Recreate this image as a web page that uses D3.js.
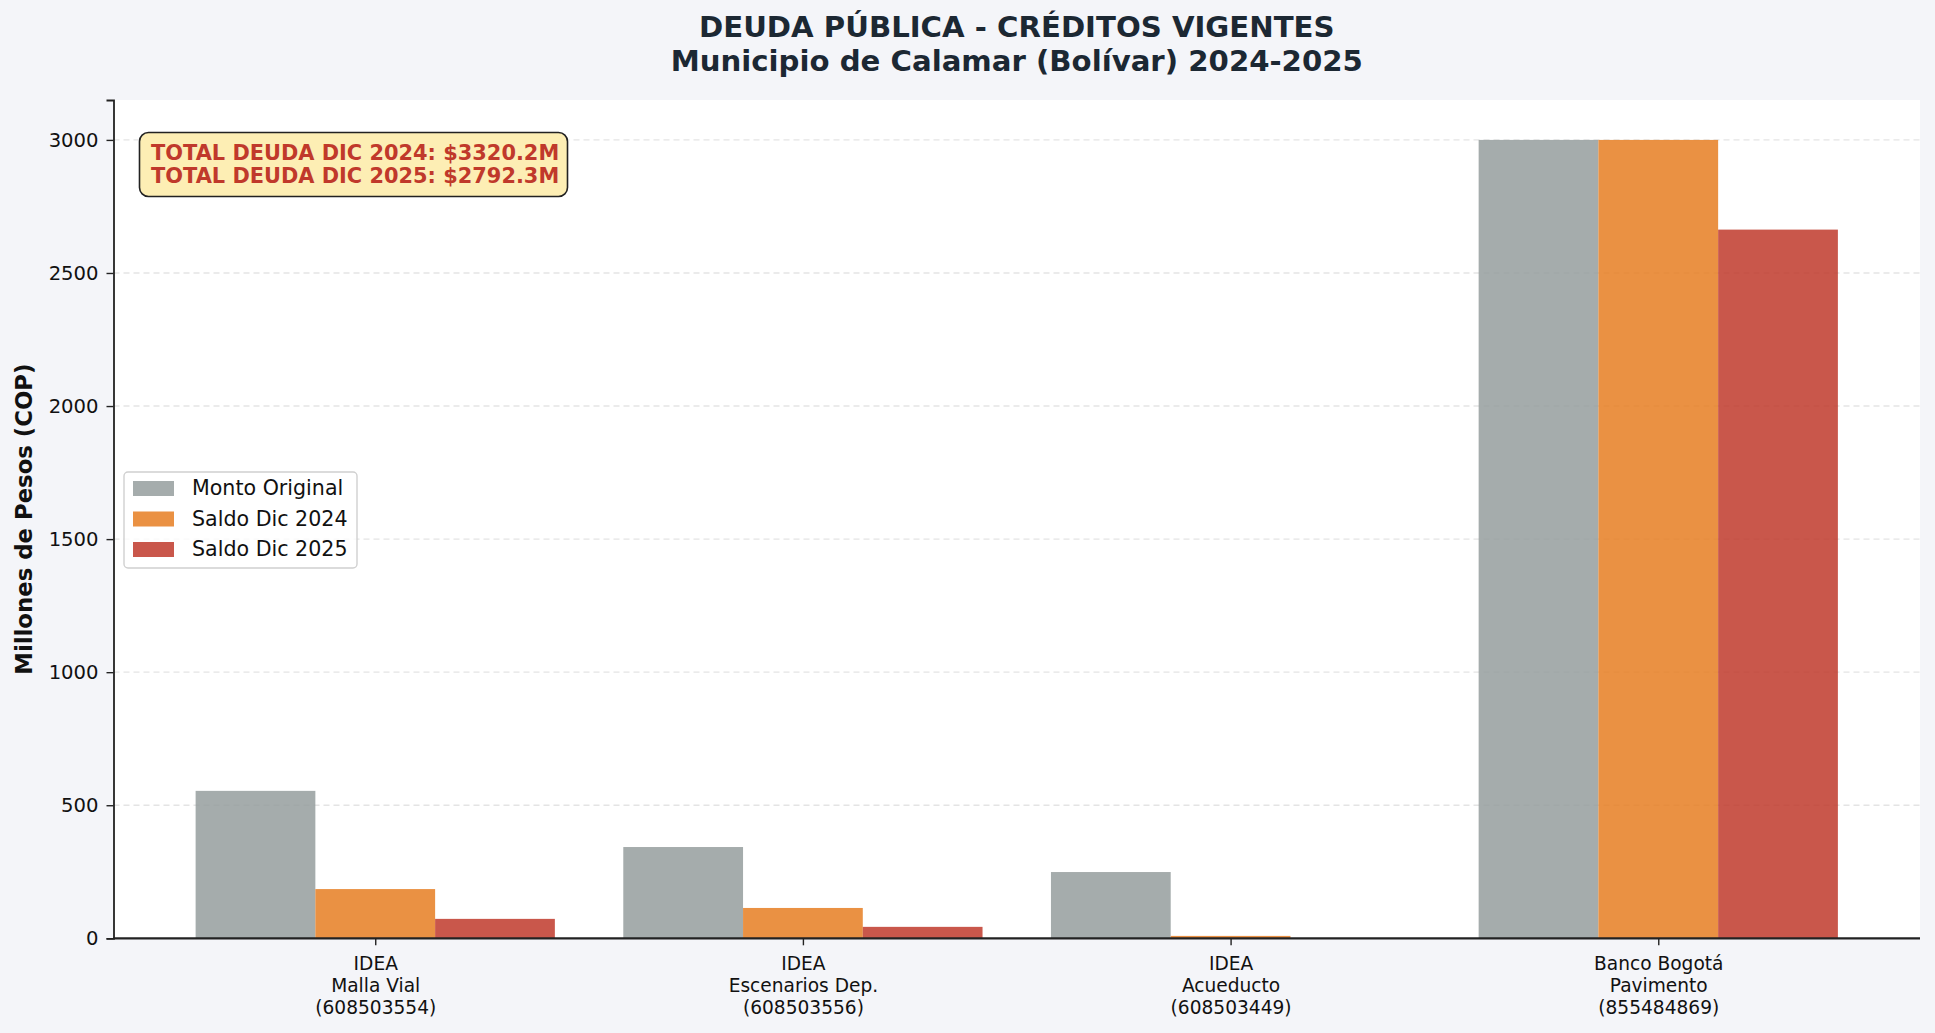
<!DOCTYPE html>
<html><head><meta charset="utf-8">
<script src="https://cdn.jsdelivr.net/npm/d3@7"></script>
<style>
html,body{margin:0;padding:0;background:#F4F5F9;}
svg{display:block;font-family:"DejaVu Sans",sans-serif;}
</style></head>
<body>
<svg id="chart" width="1935" height="1033"></svg>
<script>
const categories = [
  ["IDEA","Malla Vial","(608503554)"],
  ["IDEA","Escenarios Dep.","(608503556)"],
  ["IDEA","Acueducto","(608503449)"],
  ["Banco Bogotá","Pavimento","(855484869)"]
];
const montoOriginal = [554, 343, 249, 3000];
const saldo2024 = [185, 114, 9, 3000];
const saldo2025 = [73, 43, 0, 2663];
const seriesNames = ["Monto Original","Saldo Dic 2024","Saldo Dic 2025"];
const seriesColors = ["#959D9E","#E67E22","#C0392B"];
const yTicks = [0,500,1000,1500,2000,2500,3000];
const titleLines = ["DEUDA PÚBLICA - CRÉDITOS VIGENTES","Municipio de Calamar (Bolívar) 2024-2025"];
const yLabel = "Millones de Pesos (COP)";
const annotationLines = ["TOTAL DEUDA DIC 2024: $3320.2M","TOTAL DEUDA DIC 2025: $2792.3M"];

const series = [montoOriginal, saldo2024, saldo2025];
const svg = d3.select("#chart");
const L = 113.5, R = 1920, T = 100, B = 938.3;
const barW = 0.28;
const x = d3.scaleLinear().domain([-0.612, categories.length - 1 + 0.612]).range([L, R]);
const y = d3.scaleLinear().domain([0, 3150]).range([B, T]);

svg.append("rect").attr("width",1935).attr("height",1033).attr("fill","#F4F5F9");
svg.append("rect").attr("x",L).attr("y",T).attr("width",R-L).attr("height",B-T).attr("fill","#ffffff");

// grid
svg.append("g").selectAll("line").data(yTicks.slice(1)).join("line")
  .attr("x1",L).attr("x2",R).attr("y1",d=>y(d)).attr("y2",d=>y(d))
  .attr("stroke","#d9d9d9").attr("stroke-opacity",0.7).attr("stroke-width",1.4)
  .attr("stroke-dasharray","6,4");

// bars
series.forEach((vals, j) => {
  svg.append("g").selectAll("rect").data(vals).join("rect")
    .attr("x",(d,i)=>x(i + (j-1)*barW - barW/2))
    .attr("width",(d,i)=>x(i + (j-1)*barW + barW/2) - x(i + (j-1)*barW - barW/2))
    .attr("y",d=>y(d)).attr("height",d=>y(0)-y(d))
    .attr("fill",seriesColors[j]).attr("fill-opacity",0.85);
});

// y axis
const yAxis = d3.axisLeft(y).tickValues(yTicks).tickSize(7).tickPadding(8).tickFormat(d3.format("d"));
const gy = svg.append("g").attr("transform",`translate(${L},0)`).call(yAxis);
gy.select(".domain").attr("stroke","#222").attr("stroke-width",1.8);
gy.selectAll(".tick line").attr("stroke","#222").attr("stroke-width",1.4);
gy.selectAll(".tick text").attr("font-size",19.6).attr("fill","#111").attr("font-family","DejaVu Sans");

// x axis
const xAxis = d3.axisBottom(x).tickValues(d3.range(categories.length)).tickSize(7).tickFormat("");
const gx = svg.append("g").attr("transform",`translate(0,${B})`).call(xAxis);
gx.select(".domain").attr("stroke","#222").attr("stroke-width",2.2).attr("d",`M${L},0H${R}`);
gx.selectAll(".tick line").attr("stroke","#222").attr("stroke-width",1.4);
gx.selectAll(".tick").each(function(d){
  const t = d3.select(this).append("text").attr("fill","#111").attr("font-size",18.6)
    .attr("text-anchor","middle").attr("font-family","DejaVu Sans");
  categories[d].forEach((s,k)=>{
    t.append("tspan").attr("x",0).attr("y",32 + k*21.7).text(s);
  });
});

// y label
svg.append("text").attr("transform",`translate(32,${(T+B)/2}) rotate(-90)`)
  .attr("text-anchor","middle").attr("font-size",22.8).attr("font-weight","bold").attr("fill","#111")
  .text(yLabel);

// title
const cx = (L+R)/2;
svg.append("text").attr("x",cx).attr("y",36.7).attr("text-anchor","middle")
  .attr("font-size",29.2).attr("font-weight","bold").attr("fill","#1C2833").text(titleLines[0]);
svg.append("text").attr("x",cx).attr("y",71).attr("text-anchor","middle")
  .attr("font-size",29.2).attr("font-weight","bold").attr("fill","#1C2833").text(titleLines[1]);

// annotation box
svg.append("rect").attr("x",139.5).attr("y",132.5).attr("width",428).attr("height",64)
  .attr("rx",9).attr("fill","#FDEEB4").attr("stroke","#222").attr("stroke-width",1.6);
annotationLines.forEach((s,k)=>{
  svg.append("text").attr("x",151).attr("y",160 + k*23.3).attr("font-size",20.9)
    .attr("font-weight","bold").attr("fill","#C0392B").text(s);
});

// legend
const lg = svg.append("g");
lg.append("rect").attr("x",124).attr("y",472).attr("width",233).attr("height",96)
  .attr("rx",4).attr("fill","#ffffff").attr("fill-opacity",0.8).attr("stroke","#d0d0d0").attr("stroke-width",1.4);
seriesNames.forEach((s,k)=>{
  lg.append("rect").attr("x",133).attr("y",481 + k*30.5).attr("width",41).attr("height",15)
    .attr("fill",seriesColors[k]).attr("fill-opacity",0.85);
  lg.append("text").attr("x",192).attr("y",495 + k*30.5).attr("font-size",20.6).attr("fill","#111").text(s);
});
</script>
</body></html>
